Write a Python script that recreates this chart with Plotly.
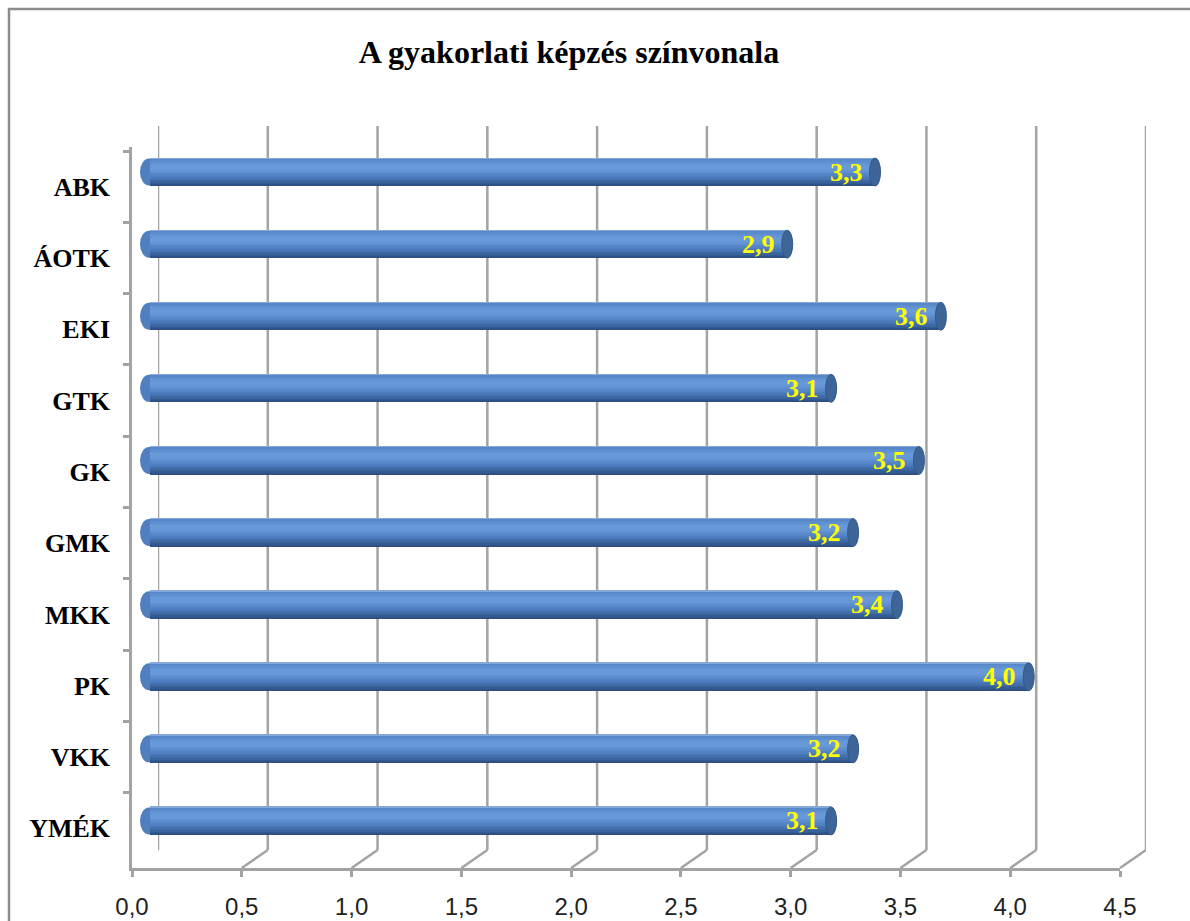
import plotly.graph_objects as go

# ---- data ----
categories = ["ABK", "ÁOTK", "EKI", "GTK", "GK", "GMK", "MKK", "PK", "VKK", "YMÉK"]
values = [3.3, 2.9, 3.6, 3.1, 3.5, 3.2, 3.4, 4.0, 3.2, 3.1]
tick_values = [0.0, 0.5, 1.0, 1.5, 2.0, 2.5, 3.0, 3.5, 4.0, 4.5]
tick_labels = ["0,0", "0,5", "1,0", "1,5", "2,0", "2,5", "3,0", "3,5", "4,0", "4,5"]
title_text = "A gyakorlati képzés színvonala"

# ---- geometry / style ----
W, H = 1190, 921
def fx(p):
    return p / W
def fy(p):
    return 1 - p / H

DEPTH_X, DEPTH_Y = 26, 18          # 3D depth offset (px)
FRONT_X0, FRONT_X1 = 132, 1120      # front floor edge
BACK_X0, BACK_X1 = FRONT_X0 + DEPTH_X, FRONT_X1 + DEPTH_X
BAR_X0 = 150
BAR_X1 = BAR_X0 + (BACK_X1 - BACK_X0)
FRONT_Y0, FRONT_Y1 = 147, 868
BACK_Y0, BACK_Y1 = FRONT_Y0 - 21, FRONT_Y1 - DEPTH_Y
BAR_SHIFT = 11
XMAX = 4.5
UNIT = (BACK_X1 - BACK_X0) / XMAX   # px per data unit
def du(px):
    return px / UNIT
BAR_PAD = 14                        # room left of 0 for the rounded cylinder end

GRID = "#a3a3a3"
serif = "Liberation Serif, Times New Roman, serif"
sans = "Liberation Sans, Arial, sans-serif"

def hex2rgb(h):
    h = h.lstrip("#")
    return tuple(int(h[i:i + 2], 16) for i in (0, 2, 4))

def interp(stops, t):
    for (t0, c0), (t1, c1) in zip(stops, stops[1:]):
        if t0 <= t <= t1:
            a = (t - t0) / (t1 - t0) if t1 > t0 else 0
            r0, r1 = hex2rgb(c0), hex2rgb(c1)
            return "rgb(%d,%d,%d)" % tuple(round(r0[i] + (r1[i] - r0[i]) * a) for i in range(3))
    return stops[-1][1]

stops = [(0.0, "#a7c0e4"), (0.06, "#5686c6"), (0.30, "#699ada"), (0.45, "#6596d6"),
         (0.70, "#4b7bbc"), (0.88, "#38629c"), (1.0, "#2a4c7e")]

fig = go.Figure()

bar_h = 28 / ((FRONT_Y1 - FRONT_Y0) / len(categories))
N = 20
bw = bar_h / N
for k in range(N):
    t = (k + 0.5) / N
    fig.add_trace(go.Bar(
        x=values, y=categories, orientation="h",
        width=bw * 1.35 if k < N - 1 else bw, offset=-bar_h / 2 + k * bw,
        marker=dict(color=interp(stops, t), line=dict(width=0)),
        xaxis="x", yaxis="y2", hoverinfo="skip", showlegend=False,
    ))

# invisible helper traces so the front / back axes exist
fig.add_trace(go.Scatter(x=values, y=categories, mode="markers", marker=dict(opacity=0),
                         xaxis="x3", yaxis="y", hoverinfo="skip", showlegend=False))
fig.add_trace(go.Scatter(x=values, y=categories, mode="markers", marker=dict(opacity=0),
                         xaxis="x2", yaxis="y", hoverinfo="skip", showlegend=False))

shapes = []
# outer chart border (cropped chart area)
shapes.append(dict(type="line", xref="paper", yref="paper", x0=fx(9), x1=fx(9), y0=fy(8), y1=fy(H + 5),
                   line=dict(color="#8c8c8c", width=2.5)))
shapes.append(dict(type="line", xref="paper", yref="paper", x0=fx(8), x1=fx(W + 5), y0=fy(9), y1=fy(9),
                   line=dict(color="#8c8c8c", width=2.5)))
# back wall gridlines and floor slants
for v in tick_values:
    shapes.append(dict(type="line", layer="below", xref="x2", yref="paper", x0=v, x1=v,
                       y0=fy(BACK_Y0), y1=fy(BACK_Y1), line=dict(color=GRID, width=2.5)))
    shapes.append(dict(type="line", layer="below", xref="x2", x0=v, x1=v - du(DEPTH_X),
                       yref="paper", y0=fy(BACK_Y1), y1=fy(FRONT_Y1),
                       line=dict(color=GRID, width=2.5)))
# top-left side wall slant
shapes.append(dict(type="line", layer="below", xref="x2", x0=-du(DEPTH_X), x1=0,
                   yref="paper", y0=fy(FRONT_Y0), y1=fy(BACK_Y0),
                   line=dict(color=GRID, width=2.5)))
# cylinder caps
for i, (c, v) in enumerate(zip(categories, values)):
    shapes.append(dict(type="circle", layer="below", xref="x", x0=-du(10), x1=du(8),
                       yref="y2", ysizemode="pixel", yanchor=i, y0=-13.5, y1=13.5,
                       fillcolor="#4f7fbf", line=dict(width=0)))
    shapes.append(dict(type="circle", layer="above", xref="x", x0=v - du(5), x1=v + du(6),
                       yref="y2", ysizemode="pixel", yanchor=i, y0=-14, y1=14,
                       fillcolor="#3d6598", line=dict(color="#335a8b", width=1)))

annotations = []
for c, v in zip(categories, values):
    annotations.append(dict(x=v, y=c, xref="x", yref="y2", xanchor="right", yanchor="middle",
                            xshift=-10, showarrow=False, text=f"{v:.1f}".replace(".", ","),
                            font=dict(family=serif, size=26, color="#ffff00", weight="bold")))

fig.update_layout(
    width=W, height=H, autosize=False,
    margin=dict(l=0, r=0, t=0, b=0, pad=0, autoexpand=False),
    paper_bgcolor="white", plot_bgcolor="rgba(0,0,0,0)",
    barmode="overlay", bargap=0,
    showlegend=False,
    title=dict(text=title_text, x=fx(569), xanchor="center", y=fy(52), yanchor="middle",
               automargin=False,
               font=dict(family=serif, size=32, color="black", weight="bold")),
    xaxis=dict(domain=[fx(BAR_X0 - BAR_PAD), fx(BAR_X1)], range=[-du(BAR_PAD), XMAX], anchor="y2",
               visible=False, automargin=False),
    yaxis2=dict(domain=[fy(FRONT_Y1 - BAR_SHIFT), fy(FRONT_Y0 - BAR_SHIFT)], anchor="x",
                type="category", categoryorder="array", categoryarray=categories,
                autorange="reversed", visible=False, automargin=False),
    xaxis2=dict(domain=[fx(BACK_X0), fx(BACK_X1)], range=[0, XMAX], anchor="y",
                visible=False, automargin=False),
    xaxis3=dict(domain=[fx(FRONT_X0), fx(FRONT_X1)], range=[0, XMAX], anchor="y",
                automargin=False,
                showgrid=False, zeroline=False, showline=True, linecolor=GRID, linewidth=2.5,
                ticks="outside", ticklen=6, tickwidth=2.5, tickcolor=GRID,
                tickmode="array", tickvals=tick_values, ticktext=tick_labels,
                ticklabelstandoff=9,
                tickfont=dict(family=sans, size=24, color="#222222")),
    yaxis=dict(domain=[fy(FRONT_Y1), fy(FRONT_Y0)], anchor="x3", automargin=False,
               type="category", categoryorder="array", categoryarray=categories,
               autorange="reversed", showgrid=False, zeroline=False,
               showline=True, linecolor=GRID, linewidth=2.5,
               ticks="outside", ticklen=6, tickwidth=2.5, tickcolor=GRID, tickson="boundaries",
               ticklabelstandoff=14,
               tickfont=dict(family=serif, size=26, color="black", weight="bold")),
    shapes=shapes,
    annotations=annotations,
)

fig.write_html("out.html", config={"displayModeBar": False},
               post_script="document.body.style.margin='0';document.body.style.overflow='hidden';")
